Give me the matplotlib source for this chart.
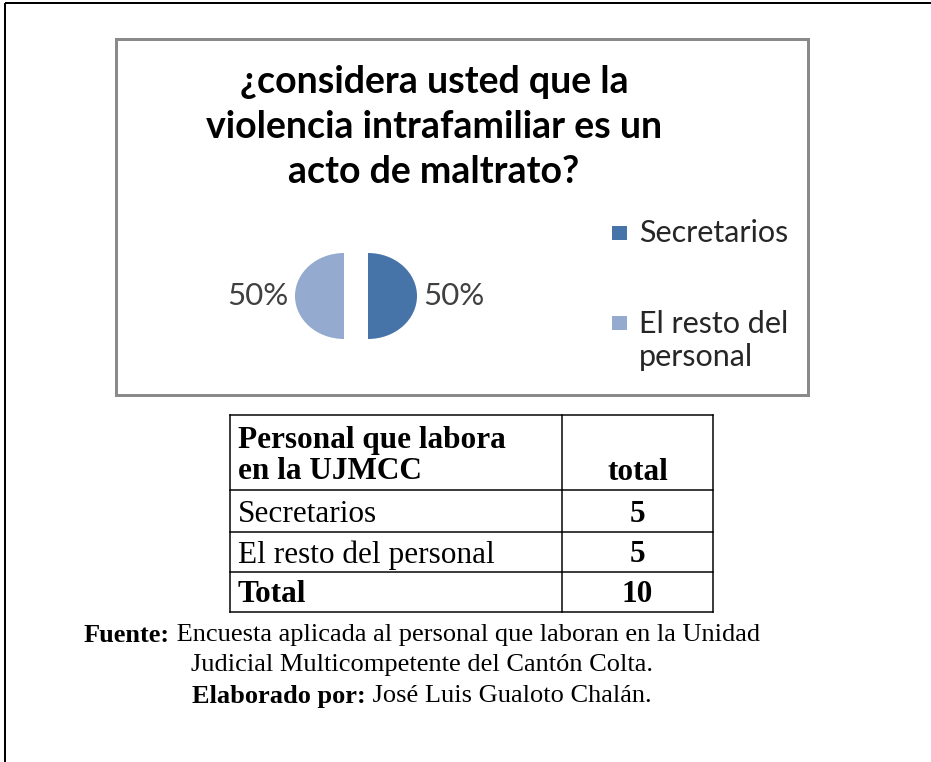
import matplotlib
matplotlib.use("Agg")
import matplotlib.pyplot as plt
from matplotlib.patches import Rectangle

W, H = 931, 762
DPI = 100

# ---- data ----
title_lines = ["¿considera usted que la", "violencia intrafamiliar es un", "acto de maltrato?"]
categories = ["Secretarios", "El resto del personal"]
legend_labels = ["Secretarios", "El resto del\npersonal"]
counts = [5, 5]
colors = ["#4673A8", "#94AACF"]
table_header = ["Personal que labora\nen la UJMCC", "total"]
table_rows = ["Secretarios", "El resto del personal", "Total"]
table_values = [5, 5, 10]
footer_lines = [("Fuente:", " Encuesta aplicada al personal que laboran en la Unidad"),
                ("", "Judicial Multicompetente del Cantón Colta."),
                ("Elaborado por:", " José Luis Gualoto Chalán.")]

SANS = "Lato"
SERIF = "Liberation Serif"


def pt(px):
    return px * 72.0 / DPI


fig = plt.figure(figsize=(W / DPI, H / DPI), dpi=DPI)
fig.patch.set_facecolor("white")
ov = fig.add_axes([0, 0, 1, 1])
ov.set_xlim(0, W)
ov.set_ylim(H, 0)
ov.axis("off")

# outer page border
ov.plot([5, 5], [H + 5, 3], color="black", lw=pt(2), solid_capstyle="butt")
ov.plot([5, W + 5], [3, 3], color="black", lw=pt(2), solid_capstyle="butt")

# chart frame
ov.add_patch(Rectangle((116, 39), 692, 356, fill=False, ec="#8a8a8a", lw=pt(3)))

# title
for i, line in enumerate(title_lines):
    ov.text(434, 82 + 45 * i, line, ha="center", va="center", fontsize=27,
            fontweight="bold", family=SANS, color="black")

# pie
cx, cy, rx, ry = 356, 296, 49, 43
axw, axh = 110, 60
ax = fig.add_axes([(cx - axw) / W, 1 - (cy + axh) / H, 2 * axw / W, 2 * axh / H])
wedges, texts, autotexts = ax.pie(counts, colors=colors, startangle=90, counterclock=False,
                                  explode=[0.245, 0.245], autopct="%1.0f%%", pctdistance=1.75,
                                  textprops=dict(fontsize=22.5, family=SANS, color="#404040"))
ax.set_aspect("auto")
ax.set_xlim(-axw / rx, axw / rx)
ax.set_ylim(-axh / ry, axh / ry)
ax.axis("off")

# legend (square keys aligned to first text line, as in the source chart)
leg_y = [233, 323]
for lab, w, y in zip(legend_labels, wedges, leg_y):
    ov.add_patch(Rectangle((612, y - 7), 15, 14, fc=w.get_facecolor(), ec="none"))
    t = ov.text(639, y, lab, ha="left", va="center", fontsize=22, family=SANS, color="#262626",
                linespacing=1.2)
    if "\n" in lab:
        t.set_va("top")
        t.set_y(y - 13)

# table
xs = [230, 562, 713]
ys = [415, 490, 532, 572, 612]
for y in ys:
    ov.plot([xs[0], xs[-1]], [y, y], color="black", lw=pt(1.5), solid_capstyle="projecting")
for x in xs:
    ov.plot([x, x], [ys[0], ys[-1]], color="black", lw=pt(1.5), solid_capstyle="projecting")

FS_T = 22.5
ov.text(238, 456, table_header[0], ha="left", va="center", fontsize=FS_T, family=SERIF,
        fontweight="bold", linespacing=1.1)
ov.text((xs[1] + xs[2]) / 2, 472, table_header[1], ha="center", va="center", fontsize=FS_T,
        family=SERIF, fontweight="bold")
for i, (name, val) in enumerate(zip(table_rows, table_values)):
    yc = (ys[i + 1] + ys[i + 2]) / 2 + 3
    ov.text(238, yc, name, ha="left", va="center", fontsize=FS_T, family=SERIF,
            fontweight="bold" if name == "Total" else "normal")
    ov.text((xs[1] + xs[2]) / 2, yc, str(val), ha="center", va="center", fontsize=FS_T,
            family=SERIF, fontweight="bold")

# footer (mixed bold / regular, centered)
fig.canvas.draw()
r = fig.canvas.get_renderer()
FS_F = 19
for i, (b, n) in enumerate(footer_lines):
    y = 635 + 30.5 * i
    tb = ov.text(0, y, b, ha="left", va="center", fontsize=FS_F, family=SERIF, fontweight="bold")
    tn = ov.text(0, y, n, ha="left", va="center", fontsize=FS_F, family=SERIF)
    wb = tb.get_window_extent(r).width if b else 0
    wn = tn.get_window_extent(r).width
    x0 = 422 - (wb + wn) / 2
    tb.set_x(x0)
    tn.set_x(x0 + wb)

fig.savefig("out.png", dpi=DPI, facecolor="white")
